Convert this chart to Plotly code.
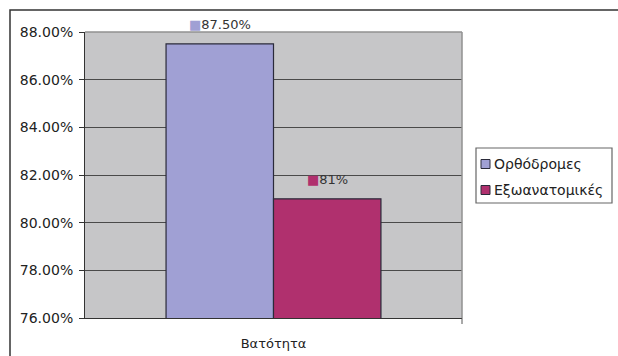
import plotly.graph_objects as go

# Data
categories = ["Βατότητα"]
series_names = ["Ορθόδρομες", "Εξωανατομικές"]
series_values = [87.5, 81.0]
value_labels = ["87.50%", "81%"]
series_colors = ["#a0a0d4", "#b0306e"]
tick_values = [76, 78, 80, 82, 84, 86, 88]
tick_labels = ["76.00%", "78.00%", "80.00%", "82.00%", "84.00%", "86.00%", "88.00%"]

W, H = 618, 356
L, R, T, B = 85, 156, 32, 38
pw, ph = W - L - R, H - T - B
FONT = "DejaVu Sans, Verdana, sans-serif"
BAR_GAP = 0.43
bar_px = pw * (1 - BAR_GAP) / len(series_names)


def px_x(x):
    return (x - L) / pw


def px_y(y):
    return (H - B - y) / ph


fig = go.Figure()
for name, val, col in zip(series_names, series_values, series_colors):
    fig.add_trace(go.Bar(
        x=categories,
        y=[val],
        name=name,
        marker=dict(color=col, line=dict(color="#2a2a3a", width=1.2)),
        showlegend=False,
    ))

# Value labels above each bar, with a colour key in front
n = len(series_names)
for i, (val, lab, col) in enumerate(zip(series_values, value_labels, series_colors)):
    shift = (i - (n - 1) / 2) * bar_px
    fig.add_annotation(
        x=categories[0], y=val, xref="x", yref="y",
        xshift=shift, yshift=19, yanchor="middle", xanchor="center",
        showarrow=False,
        text=f"<span style='color:{col}'>■</span>{lab}",
        font=dict(family=FONT, size=13, color="#333333"),
    )

fig.update_layout(
    width=W, height=H,
    margin=dict(l=L, r=R, t=T, b=B, autoexpand=False),
    paper_bgcolor="white",
    plot_bgcolor="#c6c6c8",
    barmode="group",
    bargap=BAR_GAP,
    bargroupgap=0,
    font=dict(family=FONT, size=14, color="#222222"),
)

fig.update_yaxes(
    range=[76, 88],
    tickvals=tick_values,
    ticktext=tick_labels,
    showgrid=True, gridcolor="#4a4a4a", gridwidth=1,
    ticks="outside", ticklen=5, tickcolor="#333333",
    ticklabelstandoff=3,
    showline=True, linecolor="#333333", linewidth=1,
    zeroline=False, automargin=False,
    tickfont=dict(family=FONT, size=14, color="#222222"),
)

fig.update_xaxes(
    showline=True, linecolor="#333333", linewidth=1,
    ticks="", tickfont=dict(family=FONT, size=13, color="#222222"),
    ticklabelstandoff=13, automargin=False,
    showgrid=False,
)

# Light frame on the top and right of the plotting area
fig.add_shape(type="line", xref="paper", yref="paper", x0=0, x1=1, y0=1, y1=1,
              line=dict(color="#909090", width=1.5))
fig.add_shape(type="line", xref="paper", yref="paper", x0=1, x1=1, y0=0, y1=1,
              line=dict(color="#909090", width=1.5))
fig.add_shape(type="line", xref="paper", yref="paper", x0=1, x1=1, y0=0, y1=px_y(H - B + 6),
              line=dict(color="#555555", width=1))
# Outer chart border
fig.add_shape(type="rect", xref="paper", yref="paper",
              x0=px_x(10), x1=px_x(622), y0=px_y(362), y1=px_y(10),
              line=dict(color="#333333", width=1.5), layer="below")

# Legend box with keys
fig.add_shape(type="rect", xref="paper", yref="paper",
              x0=px_x(476), x1=px_x(612), y0=px_y(203), y1=px_y(148),
              line=dict(color="#666666", width=1.2), fillcolor="white")
for i, (name, col) in enumerate(zip(series_names, series_colors)):
    yc = 164 + i * 26
    fig.add_shape(type="rect", xref="paper", yref="paper",
                  x0=px_x(481), x1=px_x(490), y0=px_y(yc + 4.5), y1=px_y(yc - 4.5),
                  line=dict(color="#2a2a3a", width=1), fillcolor=col)
    fig.add_annotation(xref="paper", yref="paper", x=px_x(492), y=px_y(yc),
                       xanchor="left", yanchor="middle", showarrow=False,
                       text=name, font=dict(family=FONT, size=14, color="#222222"))

fig.write_html("out.html")
